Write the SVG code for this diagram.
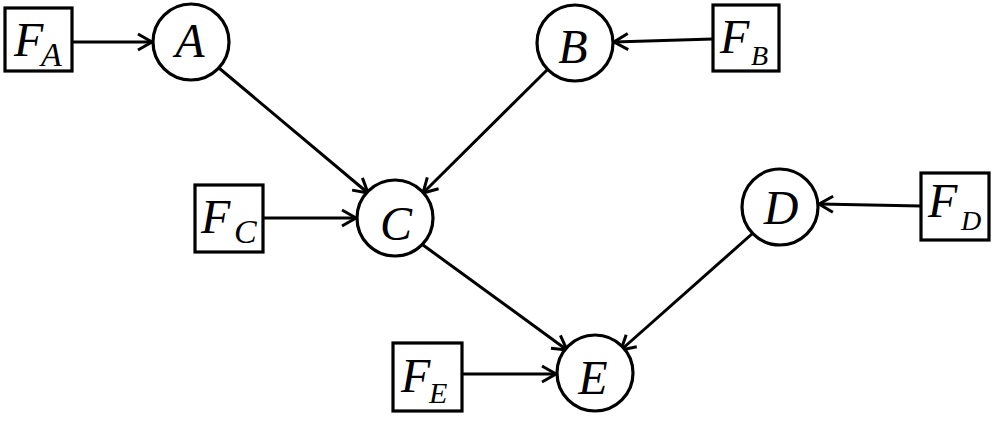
<svg xmlns="http://www.w3.org/2000/svg" width="996" height="422" viewBox="0 0 996 422">
<style>
.n{fill:#fff;stroke:#000;stroke-width:3.2}
.t{font-family:"Liberation Serif","Times New Roman",serif;font-style:italic;fill:#000}
.big{font-size:48px}
.e{stroke:#000;stroke-width:3;fill:none;marker-end:url(#ah)}
</style>
<defs>
<marker id="ah" markerUnits="userSpaceOnUse" markerWidth="20" markerHeight="20" refX="16" refY="10" orient="auto">
<path d="M2,2 L16,10 L2,18" fill="none" stroke="#000" stroke-width="3"/>
</marker>
</defs>
<rect width="996" height="422" fill="#fff"/>
<g id="edges">
<line class="e" x1="72" y1="42" x2="152" y2="42"/>
<line class="e" x1="713" y1="39" x2="614" y2="42"/>
<line class="e" x1="263" y1="218" x2="356" y2="218"/>
<line class="e" x1="462" y1="374" x2="556" y2="374"/>
<line class="e" x1="921" y1="206" x2="819" y2="204"/>
<line class="e" x1="219" y1="68" x2="368" y2="193"/>
<line class="e" x1="547" y1="70" x2="423" y2="193"/>
<line class="e" x1="423" y1="245" x2="567" y2="350"/>
<line class="e" x1="753" y1="233" x2="621" y2="350"/>
</g>
<g id="FA"><rect class="n" x="5" y="8" width="67" height="63"/><text class="t big" x="14" y="56">F</text><text class="t" font-size="34" x="41" y="66">A</text></g>
<g id="FB"><rect class="n" x="713" y="5" width="66" height="66"/><text class="t big" x="720" y="53">F</text><text class="t" font-size="28" x="751" y="65">B</text></g>
<g id="FC"><rect class="n" x="195" y="185" width="68" height="67"/><text class="t big" x="201" y="233">F</text><text class="t" font-size="34" x="234" y="243">C</text></g>
<g id="FD"><rect class="n" x="921" y="173" width="68" height="67"/><text class="t big" x="928" y="217">F</text><text class="t" font-size="28" x="961" y="230">D</text></g>
<g id="FE"><rect class="n" x="393" y="343" width="69" height="68"/><text class="t big" x="401" y="392">F</text><text class="t" font-size="30" x="429" y="403">E</text></g>
<g id="A"><circle class="n" cx="191" cy="42" r="38"/><text class="t big" x="190" y="57" text-anchor="middle">A</text></g>
<g id="B"><circle class="n" cx="575" cy="43" r="38"/><text class="t big" x="573" y="63" text-anchor="middle">B</text></g>
<g id="C"><circle class="n" cx="395" cy="218" r="38"/><text class="t big" x="396" y="240" text-anchor="middle">C</text></g>
<g id="D"><circle class="n" cx="780" cy="207" r="38"/><text class="t big" x="781" y="224" text-anchor="middle">D</text></g>
<g id="E"><circle class="n" cx="595" cy="373" r="38"/><text class="t big" x="593" y="394" text-anchor="middle">E</text></g>
</svg>
